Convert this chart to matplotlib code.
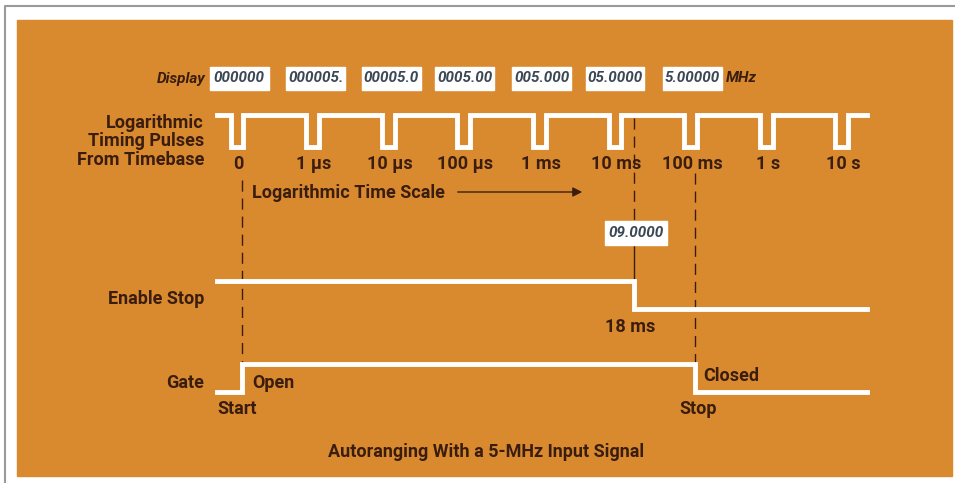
import matplotlib
matplotlib.use("Agg")
import matplotlib.pyplot as plt
from matplotlib import font_manager
from matplotlib.patches import Rectangle

# decade labels for the log timing pulses (index 0 = start)
decade_labels = ['0', '1 \u03bcs', '10 \u03bcs', '100 \u03bcs', '1 ms', '10 ms', '100 ms', '1 s', '10 s']
pulse_times = [0, 1, 2, 3, 4, 5, 6, 7, 8]          # in decade index
display_readings = ['000000', '000005.', '00005.0', '0005.00', '005.000', '05.0000', '5.00000']
display_times = [0.03, 1.04, 2.04, 3.01, 4.03, 5.0, 6.02]
stop_reading = '09.0000'
enable_stop_time = 5.255   # 18 ms on the log scale
gate_open_time = 0.066
gate_close_time = 6.06
trace_start, trace_end = -0.265, 8.33

# colours
orange = '#d98a2f'
ink = '#3a1d0e'
box_ink = '#3b4854'

names = {f.name for f in font_manager.fontManager.ttflist}
fam = 'DejaVu Sans'
for f in ['Roboto', 'Liberation Sans', 'Open Sans']:
    if f in names:
        fam = f
        break
plt.rcParams['font.family'] = [fam, 'DejaVu Sans']

fig = plt.figure(figsize=(9.55, 4.83), dpi=100)
ax = fig.add_axes([0, 0, 1, 1])
x0, dx = 237.0, 75.6   # pixel of first pulse, pixels per decade
ax.set_xlim(-x0 / dx, (955 - x0) / dx)
ax.set_ylim(483, 0)
ax.axis('off')


def px(p):
    return (p - x0) / dx


# frame and orange panel
ax.plot([px(5), px(5), px(955)], [483, 6, 6], color='#9a9a9a', lw=1.5)
ax.add_patch(Rectangle((px(17), 20), px(952) - px(17), 456, color=orange, zorder=0))

# timing pulses
top, bot, w = 115, 147, 0.17
xs, ys = [trace_start], [top]
for t in pulse_times:
    xs += [t - w / 2, t - w / 2, t + w / 2, t + w / 2]
    ys += [top, bot, bot, top]
xs.append(trace_end)
ys.append(top)
ax.plot(xs, ys, color='white', lw=3.5, solid_joinstyle='miter', zorder=3)

fs = 13
dfs = 11
for t, lab in zip(pulse_times, decade_labels):
    ax.text(t + 0.02, 164, lab, ha='center', va='center', fontsize=fs, fontweight='bold', color=ink)

# display readings
for t, r in zip(display_times, display_readings):
    ax.add_patch(Rectangle((t - 0.39, 67), 0.78, 23, color='white', zorder=2))
    ax.text(t, 78.5, r, ha='center', va='center', fontsize=dfs, fontweight='bold',
            style='italic', color=box_ink, zorder=3)
ax.text(px(205), 78.5, 'Display', ha='right', va='center', fontsize=dfs, fontweight='bold',
        style='italic', color=ink)
ax.text(display_times[-1] + 0.44, 78.5, 'MHz', ha='left', va='center', fontsize=dfs,
        fontweight='bold', style='italic', color=ink)

# left-hand labels
for y, lab in [(123, 'Logarithmic'), (141, 'Timing Pulses'), (160, 'From Timebase'),
               (299, 'Enable Stop'), (383, 'Gate')]:
    ax.text(px(204), y, lab, ha='right', va='center', fontsize=fs, fontweight='bold', color=ink)

# log time scale arrow
ax.text(px(252), 193, 'Logarithmic Time Scale', ha='left', va='center', fontsize=fs,
        fontweight='bold', color=ink)
ax.annotate('', xy=(px(585), 192), xytext=(px(455), 192),
            arrowprops=dict(arrowstyle='-|>', color=ink, lw=1, mutation_scale=14))

# enable stop trace
ax.plot([trace_start, enable_stop_time, enable_stop_time, trace_end], [281, 281, 309, 309],
        color='white', lw=3.5, solid_joinstyle='miter', zorder=3)
# gate trace
ax.plot([trace_start, gate_open_time, gate_open_time, gate_close_time, gate_close_time, trace_end],
        [392, 392, 364, 364, 392, 392], color='white', lw=3.5, solid_joinstyle='miter', zorder=3)

# dashed markers
dash = dict(color=ink, lw=1, linestyle=(0, (8, 5)), zorder=2)
ax.plot([gate_open_time, gate_open_time], [180, 364], **dash)
ax.plot([enable_stop_time, enable_stop_time], [118, 220], **dash)
ax.plot([enable_stop_time, enable_stop_time], [246, 281], color=ink, lw=1, zorder=2)
ax.plot([gate_close_time, gate_close_time], [173, 364], **dash)

# stop reading box
ax.add_patch(Rectangle((enable_stop_time - 0.39, 221), 0.82, 24, color='white', zorder=2))
ax.text(enable_stop_time + 0.02, 233, stop_reading, ha='center', va='center', fontsize=dfs,
        fontweight='bold', style='italic', color=box_ink, zorder=3)

# event labels
ax.text(px(605), 327, '18 ms', ha='left', va='center', fontsize=fs, fontweight='bold', color=ink)
ax.text(px(252), 383, 'Open', ha='left', va='center', fontsize=fs, fontweight='bold', color=ink)
ax.text(px(217), 409, 'Start', ha='left', va='center', fontsize=fs, fontweight='bold', color=ink)
ax.text(px(703), 376, 'Closed', ha='left', va='center', fontsize=fs, fontweight='bold', color=ink)
ax.text(px(679), 409, 'Stop', ha='left', va='center', fontsize=fs, fontweight='bold', color=ink)

ax.text(px(486), 452, 'Autoranging With a 5-MHz Input Signal', ha='center', va='center',
        fontsize=fs, fontweight='bold', color=ink)

fig.savefig('out.png', dpi=100)
